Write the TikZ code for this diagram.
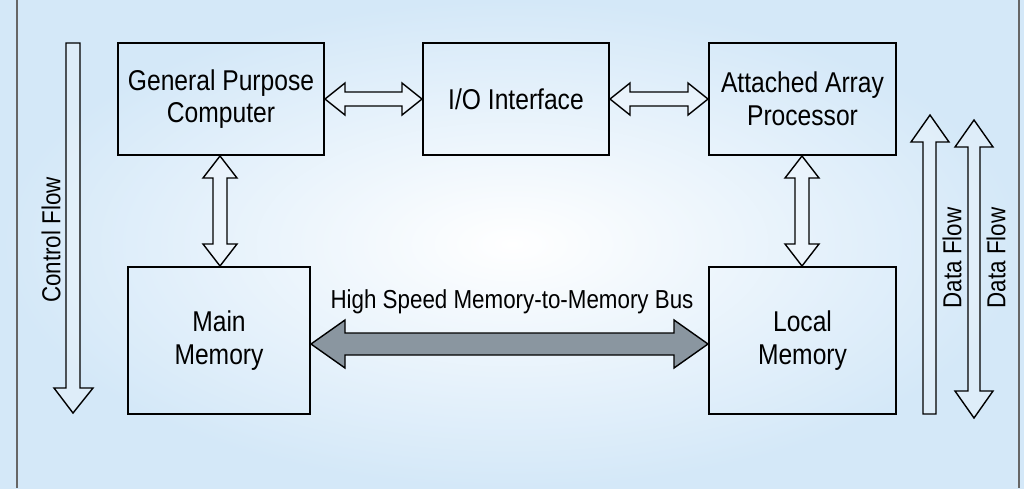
\documentclass[tikz,border=0pt]{standalone}
\usepackage{fontspec}
\setmainfont{Liberation Sans}[FakeStretch=0.86]
\usetikzlibrary{calc}
\definecolor{bgedge}{RGB}{212,232,248}
\definecolor{busgray}{RGB}{138,150,160}
\tikzset{
  box/.style={draw=black, line width=0.8pt, inner sep=0pt, align=center, font=\fontsize{16.3}{18.5}\selectfont},
  arr/.style={draw=black, line width=0.8pt, fill=white, fill opacity=0.25, draw opacity=1},
  lbl/.style={font=\fontsize{14.8}{16}\selectfont, inner sep=0pt}
}
% horizontal double arrow: x1,x2,y,shaft half,head half,head length
\newcommand{\hdarr}[7]{\path[#7] (#1,#3) -- (#1+#6,#3-#5) -- (#1+#6,#3-#4) -- (#2-#6,#3-#4) -- (#2-#6,#3-#5) -- (#2,#3) -- (#2-#6,#3+#5) -- (#2-#6,#3+#4) -- (#1+#6,#3+#4) -- (#1+#6,#3+#5) -- cycle;}
% vertical double arrow: y1,y2,x,...
\newcommand{\vdarr}[7]{\path[#7] (#3,#1) -- (#3-#5,#1+#6) -- (#3-#4,#1+#6) -- (#3-#4,#2-#6) -- (#3-#5,#2-#6) -- (#3,#2) -- (#3+#5,#2-#6) -- (#3+#4,#2-#6) -- (#3+#4,#1+#6) -- (#3+#5,#1+#6) -- cycle;}
\begin{document}
\begin{tikzpicture}[x=0.02cm,y=-0.02cm]
\shade[inner color=white, outer color=bgedge] (0,0) rectangle (1024,488);
\useasboundingbox (0,0) rectangle (1024,488);
\draw[gray!80!black, line width=0.6pt] (17,0) -- (17,488);
\draw[gray!80!black, line width=0.6pt] (1019,0) -- (1019,488);
% boxes
\node[box, minimum width=206*0.02cm, minimum height=112*0.02cm] (gpc) at (221,99) {General Purpose\\Computer};
\node[box, minimum width=186*0.02cm, minimum height=112*0.02cm] (io) at (516,99) {I/O Interface};
\node[box, minimum width=187*0.02cm, minimum height=112*0.02cm] (aap) at (802.5,99) {Attached Array\\Processor};
\node[box, minimum width=182*0.02cm, minimum height=147*0.02cm] (mm) at (219,340.5) {Main\\Memory};
\node[box, minimum width=187*0.02cm, minimum height=147*0.02cm] (lm) at (802.5,340.5) {Local\\Memory};
% connectors
\hdarr{325}{422}{99}{7}{16}{20}{arr}
\hdarr{610}{708}{99}{7}{16}{20}{arr}
\vdarr{156}{266}{220}{7}{17}{22}{arr}
\vdarr{156}{266}{802}{7}{17}{22}{arr}
\hdarr{311}{708}{344}{11}{24}{34}{draw=black, line width=0.8pt, fill=busgray}
\node[lbl] (buslbl) at (512,302) {High Speed Memory-to-Memory Bus};
% control flow
\path[arr] (66,43) -- (80,43) -- (80,388) -- (93,388) -- (73,413) -- (54,388) -- (66,388) -- cycle;
\node[lbl, rotate=90] (cf) at (51,240) {Control Flow};
% data flow
\path[arr] (923,414) -- (936,414) -- (936,142) -- (949,142) -- (930,115) -- (911,142) -- (923,142) -- cycle;
\vdarr{120}{418}{974}{6}{19}{27}{arr}
\node[lbl, rotate=90] (df1) at (952,258) {Data Flow};
\node[lbl, rotate=90] (df2) at (996,258) {Data Flow};
\end{tikzpicture}
\end{document}
